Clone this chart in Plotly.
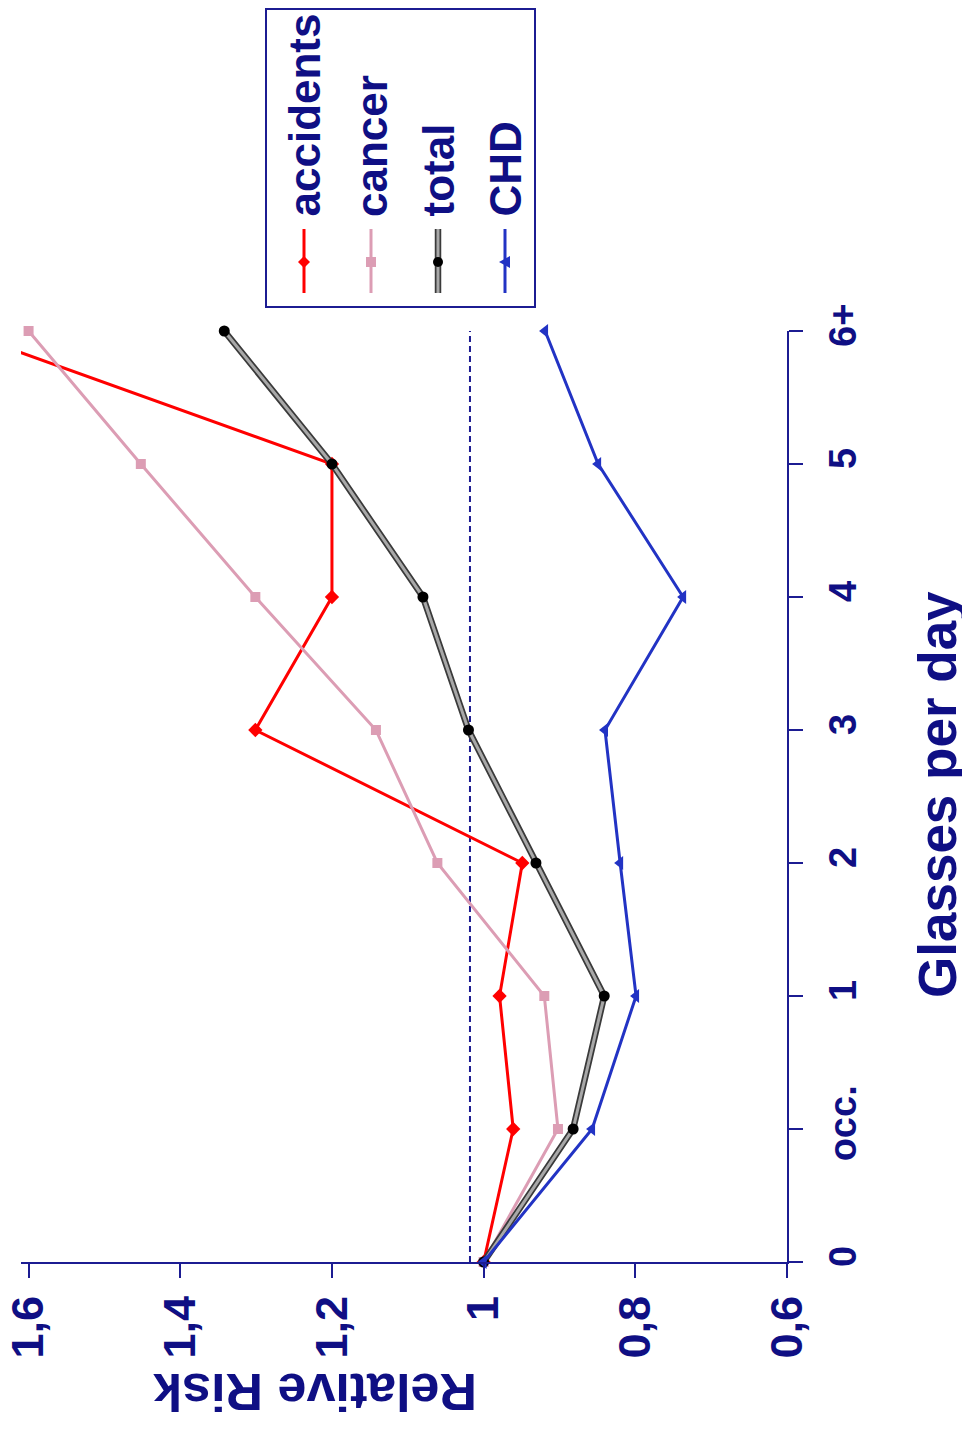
import plotly.graph_objects as go

# ---- data ----
glasses_labels = ["0", "occ.", "1", "2", "3", "4", "5", "6+"]
glasses_pos = [0, 1, 2, 3, 4, 5, 6, 7]
accidents = [1.0, 0.961, 0.979, 0.949, 1.301, 1.2, 1.2, 1.69]
cancer = [1.0, 0.902, 0.920, 1.061, 1.142, 1.301, 1.452, 1.6]
total = [1.0, 0.882, 0.841, 0.931, 1.020, 1.080, 1.2, 1.342]
chd = [1.0, 0.857, 0.799, 0.820, 0.840, 0.737, 0.849, 0.919]
reference_level = 1.018
risk_ticks = [0.6, 0.8, 1.0, 1.2, 1.4, 1.6]
risk_ticktext = ["0,6", "0,8", "1", "1,2", "1,4", "1,6"]
series_names = ["accidents", "cancer", "total", "CHD"]

# ---- style ----
OFF = 8  # page body margin
W, H = 962, 1414
PLOT_L, PLOT_T, PLOT_W, PLOT_H = 21, 331, 766, 931  # in window pixels
L = PLOT_L - OFF
T = PLOT_T - OFF
R = W - L - PLOT_W
B = H - T - PLOT_H
NAVY = "#0f0f84"
AXIS = "#1c1c92"
RED = "#ff0000"
PINK = "#dc9db4"
BLUE = "#2233c4"
FONT = "Liberation Sans, Arial, sans-serif"


def px(x):
    return (x - OFF - L) / PLOT_W


def py(y):
    return 1 - (y - OFF - T) / PLOT_H


fig = go.Figure()

fig.add_trace(go.Scatter(x=accidents, y=glasses_pos, mode="lines+markers",
                         line=dict(color=RED, width=3),
                         marker=dict(symbol="diamond", size=11, color=RED),
                         cliponaxis=True, showlegend=False, name="accidents"))
fig.add_trace(go.Scatter(x=cancer, y=glasses_pos, mode="lines+markers",
                         line=dict(color=PINK, width=3),
                         marker=dict(symbol="square", size=10, color=PINK),
                         cliponaxis=False, showlegend=False, name="cancer"))
fig.add_trace(go.Scatter(x=total, y=glasses_pos, mode="lines",
                         line=dict(color="#3a3a3a", width=6.5),
                         cliponaxis=False, showlegend=False, hoverinfo="skip"))
fig.add_trace(go.Scatter(x=total, y=glasses_pos, mode="lines+markers",
                         line=dict(color="#a8a8a8", width=3),
                         marker=dict(symbol="circle", size=11, color="black"),
                         cliponaxis=False, showlegend=False, name="total"))
fig.add_trace(go.Scatter(x=chd, y=glasses_pos, mode="lines+markers",
                         line=dict(color=BLUE, width=3),
                         marker=dict(symbol="triangle-left", size=12, color=BLUE),
                         cliponaxis=False, showlegend=False, name="CHD"))

shapes = []
# reference dashed line
shapes.append(dict(type="line", xref="x", yref="y", x0=reference_level, x1=reference_level,
                   y0=0, y1=7.07, line=dict(color=AXIS, width=2, dash="6px,4px"), layer="below"))

# legend box
shapes.append(dict(type="rect", xref="paper", yref="paper", x0=px(266), x1=px(535),
                   y0=py(9), y1=py(307), line=dict(color=AXIS, width=2), fillcolor="white"))

leg_x = [304, 371, 438, 505]
leg_colors = [RED, PINK, None, BLUE]
annotations = []
for i, name in enumerate(series_names):
    xc = leg_x[i]
    if name == "total":
        shapes.append(dict(type="line", xref="paper", yref="paper", x0=px(xc), x1=px(xc),
                           y0=py(229), y1=py(293), line=dict(color="#3a3a3a", width=6.5)))
        shapes.append(dict(type="line", xref="paper", yref="paper", x0=px(xc), x1=px(xc),
                           y0=py(229), y1=py(293), line=dict(color="#a8a8a8", width=3)))
        shapes.append(dict(type="circle", xref="paper", yref="paper", x0=px(xc - 5), x1=px(xc + 5),
                           y0=py(257), y1=py(267), fillcolor="black", line=dict(width=0)))
    else:
        c = leg_colors[i]
        shapes.append(dict(type="line", xref="paper", yref="paper", x0=px(xc), x1=px(xc),
                           y0=py(229), y1=py(293), line=dict(color=c, width=3)))
        if name == "accidents":
            path = "M {} {} L {} {} L {} {} L {} {} Z".format(
                px(xc), py(256), px(xc + 6), py(262), px(xc), py(268), px(xc - 6), py(262))
            shapes.append(dict(type="path", xref="paper", yref="paper", path=path,
                               fillcolor=c, line=dict(width=0)))
        elif name == "cancer":
            shapes.append(dict(type="rect", xref="paper", yref="paper", x0=px(xc - 5), x1=px(xc + 5),
                               y0=py(257), y1=py(267), fillcolor=c, line=dict(width=0)))
        else:
            path = "M {} {} L {} {} L {} {} Z".format(
                px(xc - 6), py(262), px(xc + 5), py(256), px(xc + 5), py(268))
            shapes.append(dict(type="path", xref="paper", yref="paper", path=path,
                               fillcolor=c, line=dict(width=0)))
    annotations.append(dict(text=name, xref="paper", yref="paper", x=px(xc), y=py(219),
                            xanchor="center", yanchor="bottom", textangle=-90, showarrow=False,
                            font=dict(family=FONT, size=44, color=NAVY, weight="bold")))

annotations.append(dict(text="Relative Risk", xref="paper", yref="paper", x=px(315), y=py(1392),
                        xanchor="center", yanchor="middle", textangle=180, showarrow=False,
                        font=dict(family=FONT, size=52, color=NAVY, weight="bold")))
annotations.append(dict(text="Glasses per day", xref="paper", yref="paper", x=px(937), y=py(795),
                        xanchor="center", yanchor="middle", textangle=-90, showarrow=False,
                        font=dict(family=FONT, size=53, color=NAVY, weight="bold")))

fig.update_layout(
    width=W, height=H,
    margin=dict(l=L, r=R, t=T, b=B, autoexpand=False),
    plot_bgcolor="white", paper_bgcolor="white",
    showlegend=False,
    shapes=shapes, annotations=annotations,
    xaxis=dict(range=[1.61, 0.6], tickvals=risk_ticks, ticktext=risk_ticktext,
               tickangle=-90, ticks="outside", ticklen=14, tickwidth=2, tickcolor=AXIS,
               showline=True, linecolor=AXIS, linewidth=2, showgrid=False, zeroline=False,
               tickfont=dict(family=FONT, size=45, color=NAVY, weight="bold"),
               ticklabelstandoff=0, ticklabeloverflow="allow"),
    yaxis=dict(range=[0, 7], side="right", tickvals=glasses_pos, ticktext=glasses_labels,
               tickangle=-90, ticks="outside", ticklen=14, tickwidth=2, tickcolor=AXIS,
               showline=True, linecolor=AXIS, linewidth=2, showgrid=False, zeroline=False,
               tickfont=dict(family=FONT, size=38, color=NAVY, weight="bold"),
               ticklabelstandoff=7, ticklabeloverflow="allow"),
)

fig.write_html("out.html")
